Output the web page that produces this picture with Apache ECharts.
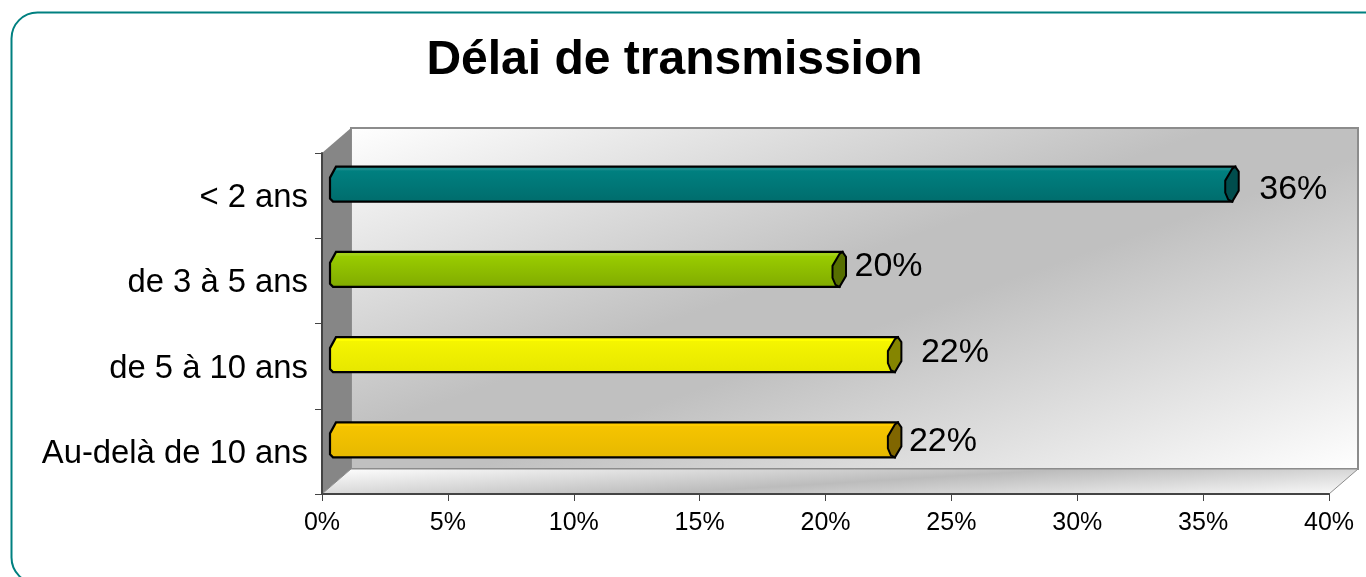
<!DOCTYPE html>
<html lang="fr">
<head>
    <meta charset="UTF-8">
    <title>Délai de transmission</title>
    <script src="https://cdn.jsdelivr.net/npm/echarts@6/dist/echarts.min.js"></script>
    <style>
        html, body { margin: 0; padding: 0; background: #fff; }
        #main { width: 1366px; height: 577px; }
    </style>
</head>
<body>
<div id="main"></div>

<script>
    var categories = ['< 2 ans', 'de 3 à 5 ans', 'de 5 à 10 ans', 'Au-delà de 10 ans'];
    var values = [35.6, 20, 22.2, 22.2];
    var ticks = [0, 5, 10, 15, 20, 25, 30, 35, 40];

    // top, middle, bottom, cap
    var barColors = [
        ['#1a8c8c', '#008080', '#006c6c', '#004d4d'],
        ['#a3d11a', '#99cc00', '#80aa00', '#566f00'],
        ['#ffff00', '#f5f500', '#e6e600', '#858500'],
        ['#ffcc00', '#f5c400', '#e6b800', '#806600']
    ];
    // the labels don't sit at a regular distance from the bars in the original
    var labelDx = [20, 8, 19, 7];
    var labelDy = [5, -3, -2, 2];

    // 3D look of the plot box
    var depthX = 29, depthY = 25;
    var gridLeft = 322, gridRight = 37, gridTop = 153, gridBottom = 83;
    var W = 1366 - gridLeft - gridRight, H = 577 - gridTop - gridBottom;
    var barLift = 8;

    var chartDom = document.getElementById('main');
    var myChart = echarts.init(chartDom);

    function renderBar(params, api) {
        var i = params.dataIndex;
        var c = barColors[i];
        var start = api.coord([0, i]);
        var end = api.coord([api.value(0), i]);
        var x0 = start[0] + barLift, x1 = end[0] + barLift;
        var yc = start[1] - 11.5, t = yc - 17.5, b = yc + 17.5;
        var body = [[x0 + 6, t], [x1 + 9, t], [x1 + 6, b], [x0 + 3, b], [x0, b - 3], [x0, t + 11]];
        var cap = [[x1 + 9, t], [x1 + 12.5, t + 5], [x1 + 12.5, t + 24], [x1 + 6, b], [x1 + 2, b - 2], [x1 - 1, b - 9], [x1 - 1, t + 14], [x1 + 6, t + 2]];
        return {
            type: 'group',
            children: [
                {
                    type: 'polygon',
                    shape: { points: body },
                    style: {
                        fill: new echarts.graphic.LinearGradient(0, 0, 0, 1, [
                            { offset: 0, color: c[0] },
                            { offset: 0.12, color: c[0] },
                            { offset: 0.14, color: c[1] },
                            { offset: 1, color: c[2] }
                        ]),
                        stroke: '#000',
                        lineWidth: 2.2
                    }
                },
                {
                    type: 'polygon',
                    shape: { points: cap },
                    style: { fill: c[3], stroke: '#000', lineWidth: 2 }
                },
                {
                    type: 'text',
                    style: {
                        text: Math.round(api.value(0)) + '%',
                        x: x1 + 13 + labelDx[i],
                        y: yc + labelDy[i],
                        align: 'left',
                        verticalAlign: 'middle',
                        fill: '#000',
                        font: '34px "Liberation Sans", Arial, sans-serif'
                    }
                }
            ]
        };
    }

    var option = {
        animation: false,
        backgroundColor: '#fff',
        title: {
            text: 'Délai de transmission',
            left: 669.5,
            top: 32,
            textAlign: 'center',
            textStyle: { fontFamily: '"Liberation Sans", Arial, sans-serif', fontSize: 48, fontWeight: 'bold', color: '#000' }
        },
        graphic: [
            {
                type: 'rect', z: -10, silent: true,
                shape: { x: 11.5, y: 12.5, width: 1400, height: 571, r: 26 },
                style: { fill: '#fff', stroke: '#008080', lineWidth: 2 }
            },
            // back wall
            {
                type: 'polygon', z: -9, silent: true,
                shape: { points: [[gridLeft + depthX, gridTop - depthY], [gridLeft + W + depthX, gridTop - depthY], [gridLeft + W + depthX, gridTop + H - depthY], [gridLeft + depthX, gridTop + H - depthY]] },
                style: {
                    fill: new echarts.graphic.LinearGradient(0, 0, 0.218, 1.815, [
                        { offset: 0, color: '#ffffff' },
                        { offset: 0.44, color: '#c0c0c0' },
                        { offset: 0.55, color: '#c0c0c0' },
                        { offset: 1, color: '#ffffff' }
                    ]),
                    stroke: '#8c8c8c',
                    lineWidth: 2
                }
            },
            // side wall
            {
                type: 'polygon', z: -8, silent: true,
                shape: { points: [[gridLeft, gridTop], [gridLeft + depthX, gridTop - depthY], [gridLeft + depthX, gridTop + H - depthY], [gridLeft, gridTop + H]] },
                style: { fill: '#868686' }
            },
            // floor
            {
                type: 'polygon', z: -8, silent: true,
                shape: { points: [[gridLeft, gridTop + H], [gridLeft + depthX, gridTop + H - depthY], [gridLeft + W + depthX, gridTop + H - depthY], [gridLeft + W, gridTop + H]] },
                style: {
                    fill: new echarts.graphic.LinearGradient(0, 0, 0.0053, 3.5, [
                        { offset: 0, color: '#ffffff' },
                        { offset: 0.5, color: '#bcbcbc' },
                        { offset: 1, color: '#ffffff' }
                    ]),
                    stroke: '#8c8c8c',
                    lineWidth: 1
                }
            }
        ],
        grid: { left: gridLeft, right: gridRight, top: gridTop, bottom: gridBottom, containLabel: false },
        xAxis: {
            type: 'value',
            min: 0,
            max: ticks[ticks.length - 1],
            interval: 5,
            axisLine: { show: true, lineStyle: { color: '#444', width: 2 } },
            axisTick: { show: true, length: 7, lineStyle: { color: '#444' } },
            axisLabel: {
                color: '#000',
                fontFamily: '"Liberation Sans", Arial, sans-serif',
                fontSize: 25,
                margin: 17,
                formatter: '{value}%',
                hideOverlap: false
            },
            splitLine: { show: false }
        },
        yAxis: {
            type: 'category',
            inverse: true,
            data: categories,
            axisLine: { show: true, lineStyle: { color: '#444', width: 2 } },
            axisTick: { show: true, length: 7, lineStyle: { color: '#444' } },
            axisLabel: {
                color: '#000',
                fontFamily: '"Liberation Sans", Arial, sans-serif',
                fontSize: 32.8,
                margin: 14,
                verticalAlign: 'top',
                lineHeight: 5
            }
        },
        series: [
            {
                type: 'custom',
                renderItem: renderBar,
                encode: { x: 0, y: 1 },
                clip: false,
                data: values.map(function (v, i) { return [v, i]; })
            }
        ]
    };

    myChart.setOption(option);
</script>
</body>
</html>
